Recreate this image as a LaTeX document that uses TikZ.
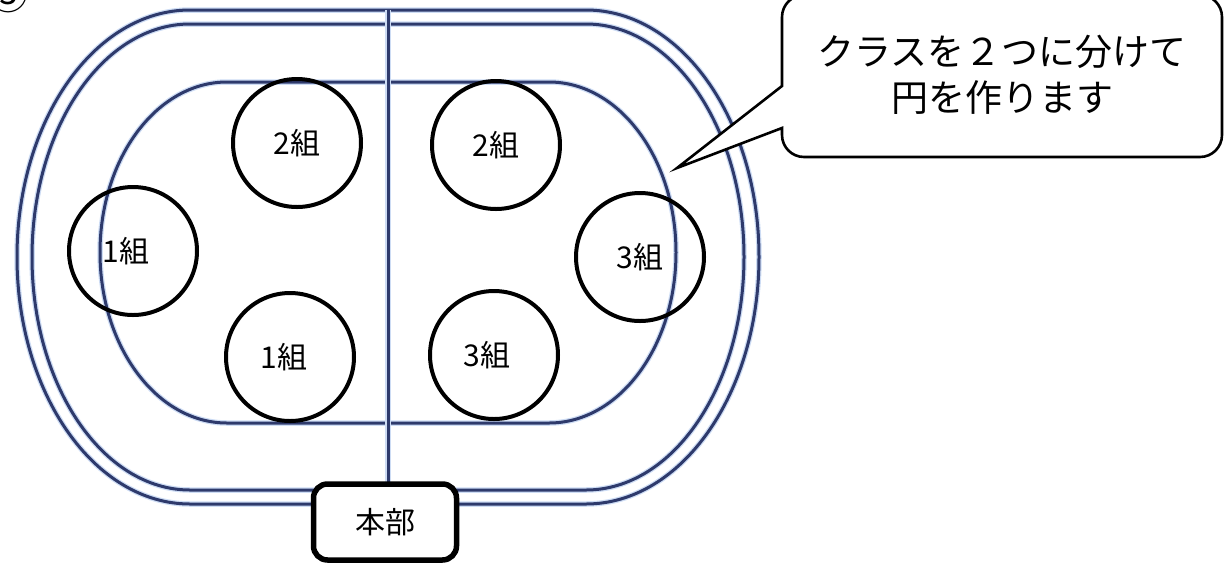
\documentclass[tikz,border=0pt]{standalone}
\usepackage{fontspec}
\setmainfont{Noto Sans CJK JP}
\definecolor{trackcore}{RGB}{46,58,108}
\definecolor{trackhalo}{RGB}{205,220,244}
\tikzset{
  halo/.style={draw=trackhalo, line width=5.5pt},
  core/.style={draw=trackcore, line width=3pt},
  group/.style={circle, draw=black, line width=4pt, minimum size=128pt, inner sep=0pt, font=\fontsize{30}{34}\selectfont},
  hq/.style={draw=black, line width=5.5pt, rounded corners=14pt, minimum width=143pt, minimum height=76pt, fill=white, font=\fontsize{30}{34}\selectfont},
  callout/.style={draw=black, line width=2.6pt, fill=white, line join=miter},
  calltext/.style={align=center, font=\fontsize{37}{46}\selectfont, inner sep=0pt}
}
\newcommand{\stadium}[6]{% cx cy halfstraight rx ry style
  \path[#6] (#1-#3,#2-#5) -- (#1+#3,#2-#5)
    arc[start angle=-90, end angle=90, x radius=#4, y radius=#5]
    -- (#1-#3,#2+#5)
    arc[start angle=90, end angle=270, x radius=#4, y radius=#5] -- cycle;}
\begin{document}
\begin{tikzpicture}[x=1pt,y=-1pt]
\useasboundingbox (0,0) rectangle (1227,566);
% partial circled number
\node[font=\fontsize{40}{40}\selectfont, inner sep=0pt] (num) at (9,-6) {③};
% track
\foreach \s in {halo,core}{
  \stadium{388}{257}{198}{173}{247}{\s}
  \stadium{388}{257}{198}{158}{233}{\s}
  \stadium{388}{252.5}{161}{127}{170.5}{\s}
}
\coordinate (divtop) at (388,10);
\coordinate (divbot) at (388,482);
\draw[halo] (divtop) -- (divbot);
\draw[core] (divtop) -- (divbot);
% groups
\node[group] (g2l) at (297,143) {2組};
\node[group] (g2r) at (496,145) {2組};
\node[group] (g1l) at (133,251) {\hspace*{-14pt}1組};
\node[group] (g3r) at (640,257) {3組};
\node[group] (g1b) at (290,357) {\hspace*{-12pt}1組};
\node[group] (g3b) at (494,355) {\hspace*{-14pt}3組};
% headquarters
\node[hq] (hq) at (385,522) {本部};
% callout
\draw[callout] (782,86) -- (782,17) arc[start angle=180, end angle=270, radius=22]
  -- (1200,-5) arc[start angle=-90, end angle=0, radius=22]
  -- (1222,135) arc[start angle=0, end angle=90, radius=22]
  -- (804,157) arc[start angle=90, end angle=180, radius=22]
  -- (782,128) -- (677,168) -- cycle;
\node[calltext] (ct) at (1002,75) {クラスを２つに分けて\\円を作ります};
\end{tikzpicture}
\end{document}
